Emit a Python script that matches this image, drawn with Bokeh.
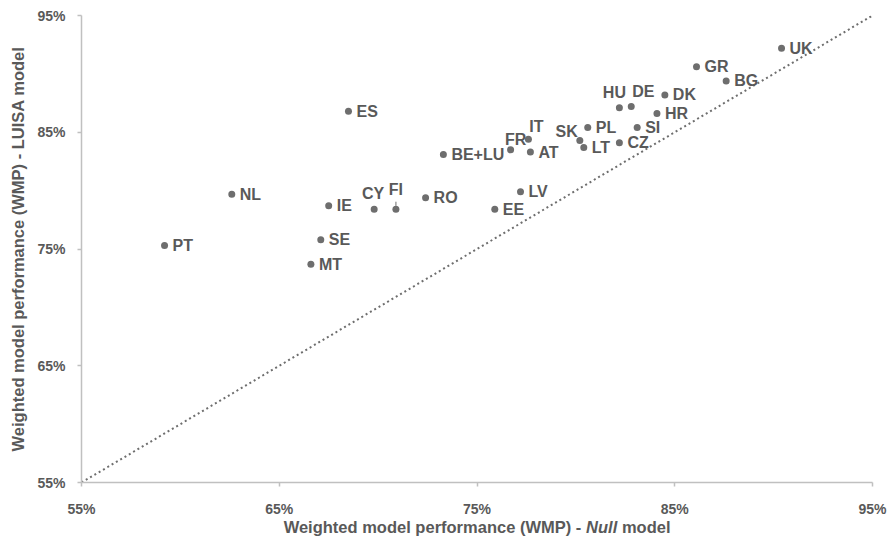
from bokeh.plotting import figure
from bokeh.models import (ColumnDataSource, Range1d, FixedTicker, CustomJSTickFormatter,
                          LinearAxis)
from bokeh.core.properties import value
from bokeh.embed import file_html
from bokeh.resources import INLINE

# ---- data (WMP, %) ----
countries = ["UK", "GR", "BG", "DK", "HU", "DE", "HR", "ES", "SI", "PL", "SK", "LT", "CZ",
             "IT", "FR", "AT", "BE+LU", "NL", "IE", "CY", "FI", "RO", "LV", "EE", "PT", "SE", "MT"]
null_wmp = [90.4, 86.1, 87.6, 84.5, 82.2, 82.8, 84.1, 68.5, 83.1, 80.6, 80.2, 80.4, 82.2,
            77.6, 76.7, 77.7, 73.3, 62.6, 67.5, 69.8, 70.9, 72.4, 77.2, 75.9, 59.2, 67.1, 66.6]
luisa_wmp = [92.2, 90.6, 89.4, 88.2, 87.1, 87.2, 86.6, 86.8, 85.4, 85.4, 84.3, 83.7, 84.1,
             84.4, 83.5, 83.3, 83.1, 79.7, 78.7, 78.4, 78.4, 79.4, 79.9, 78.4, 75.3, 75.8, 73.7]
axis_ticks = [55, 65, 75, 85, 95]

# ---- label placement (screen px offsets, y down) ----
default_place = (8, 0, "left")
special_place = {
    "HU": (-5, -15, "center"),
    "DE": (12, -15, "center"),
    "SK": (-2, -9, "right"),
    "IT": (8, -13, "center"),
    "FR": (5, -10, "center"),
    "CY": (-1, -16, "center"),
    "FI": (0, -20, "center"),
}
dx, dy, align = [], [], []
for c in countries:
    a, b, al = special_place.get(c, default_place)
    dx.append(a); dy.append(b); align.append(al)

src = ColumnDataSource(dict(x=null_wmp, y=luisa_wmp, name=countries, dx=dx, dy=dy, align=align))

TXT = "#595959"
FONT = "Liberation Sans"
W, H = 890, 541
BL, BR, BT, BB = 81, 18, 15, 59

p = figure(width=W, height=H, output_backend="svg", toolbar_location=None,
           x_range=Range1d(axis_ticks[0], axis_ticks[-1]),
           y_range=Range1d(axis_ticks[0], axis_ticks[-1]),
           min_border_left=BL, min_border_right=BR, min_border_top=BT, min_border_bottom=BB)
p.outline_line_color = None
p.background_fill_color = "white"
p.border_fill_color = "white"
p.xgrid.visible = False
p.ygrid.visible = False

fmt = CustomJSTickFormatter(code="return tick.toFixed(0) + '%';")
for ax in (p.xaxis[0], p.yaxis[0]):
    ax.ticker = FixedTicker(ticks=axis_ticks)
    ax.formatter = fmt
    ax.axis_line_color = "#c0c0c0"
    ax.axis_line_width = 1.5
    ax.major_tick_line_color = "#c0c0c0"
    ax.major_tick_line_width = 1.5
    ax.major_tick_out = 4
    ax.major_tick_in = 0
    ax.minor_tick_line_color = None
    ax.major_label_text_font = FONT
    ax.major_label_text_font_style = "bold"
    ax.major_label_text_font_size = "14px"
    ax.major_label_text_color = TXT

p.xaxis.major_label_standoff = 14
p.yaxis.major_label_standoff = 12
p.yaxis.axis_label = "Weighted model performance (WMP) - LUISA model"
p.yaxis.axis_label_text_font = FONT
p.yaxis.axis_label_text_font_style = "bold"
p.yaxis.axis_label_text_font_size = "16.5px"
p.yaxis.axis_label_text_color = TXT
p.yaxis.axis_label_standoff = 7

# ---- x-axis title with italic "Null", built from tick labels of two extra axes ----
title_parts = ["Weighted model performance (WMP) -", "Null", "model"]
title_px_offsets = [-44.5, 124.7, 169.2]      # centre of each part, px from axis centre
title_italic = [False, True, False]
frame_w = W - BL - BR
xmid = (axis_ticks[0] + axis_ticks[-1]) / 2
units_per_px = (axis_ticks[-1] - axis_ticks[0]) / frame_w
part_x = [round(xmid + o * units_per_px, 4) for o in title_px_offsets]


def title_axis(idxs, style, standoff):
    ticks = [part_x[i] for i in idxs]
    labels = [title_parts[i] for i in idxs]
    ax = LinearAxis(ticker=FixedTicker(ticks=ticks),
                    formatter=CustomJSTickFormatter(args=dict(t=ticks, l=labels),
                                                    code="var i = t.indexOf(tick); return i < 0 ? '' : l[i];"))
    ax.axis_line_color = None
    ax.major_tick_line_color = None
    ax.minor_tick_line_color = None
    ax.major_tick_out = 0
    ax.major_tick_in = 0
    ax.major_label_standoff = standoff
    ax.major_label_text_font = FONT
    ax.major_label_text_font_style = style
    ax.major_label_text_font_size = "16.5px"
    ax.major_label_text_color = TXT
    return ax


plain_idx = [i for i, it in enumerate(title_italic) if not it]
ital_idx = [i for i, it in enumerate(title_italic) if it]
p.add_layout(title_axis(plain_idx, "bold", -2), "below")
p.add_layout(title_axis(ital_idx, "bold italic", -21), "below")

# 1:1 dotted line
p.line(x=[axis_ticks[0], axis_ticks[-1]], y=[axis_ticks[0], axis_ticks[-1]],
       line_color="#6e6e6e", line_width=2, line_dash="2 3")

# FI leader line
fi = countries.index("FI")
p.segment(x0=[null_wmp[fi]], y0=[luisa_wmp[fi] + 0.3], x1=[null_wmp[fi]], y1=[luisa_wmp[fi] + 0.65],
          line_color="#6e6e6e", line_width=1)

p.scatter("x", "y", source=src, size=7, fill_color="#6e6e6e", line_color=None)
p.text("x", "y", text="name", source=src, x_offset="dx", y_offset="dy",
       text_align="align", text_baseline="middle",
       text_font=value(FONT), text_font_style="bold", text_font_size="16px", text_color=TXT)

open("out.html", "w").write(file_html(p, INLINE))
